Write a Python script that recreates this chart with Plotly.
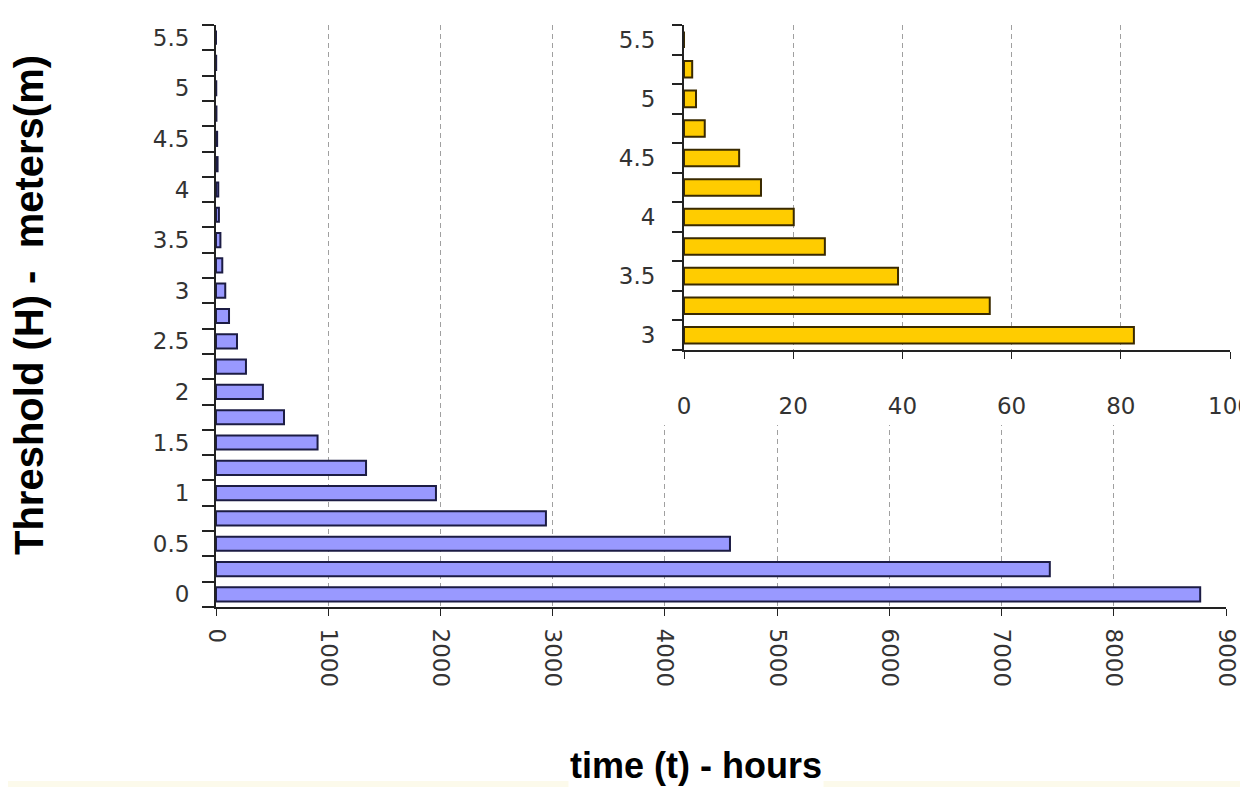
import plotly.graph_objects as go

# ---- data ----
thresholds = [0, 0.25, 0.5, 0.75, 1, 1.25, 1.5, 1.75, 2, 2.25, 2.5, 2.75,
              3, 3.25, 3.5, 3.75, 4, 4.25, 4.5, 4.75, 5, 5.25, 5.5]
hours = [8770, 7430, 4580, 2940, 1960, 1337, 905, 606, 418, 267, 187, 116,
         82.4, 56, 39.2, 25.8, 20.1, 14.1, 10.1, 3.8, 2.2, 1.5, 0]
inset_start = 12  # threshold 3 m onwards
main_xticks = [0, 1000, 2000, 3000, 4000, 5000, 6000, 7000, 8000, 9000]
inset_xticks = [0, 20, 40, 60, 80, 100]
y_label_vals = [0, 0.5, 1, 1.5, 2, 2.5, 3, 3.5, 4, 4.5, 5, 5.5]

# page body has an 8px margin -> figure drawn at (8, 8)
OFF = 8
W, H = 1248 - OFF, 787 - OFF
FONT = "Liberation Sans"
TICKFONT = dict(family="DejaVu Sans", size=23, color="#333333")

def px_x(p):
    return (p - OFF) / W

def px_y(p):
    return 1 - (p - OFF) / H

half = 0.125
boundaries = [t - half for t in thresholds] + [thresholds[-1] + half]

fig = go.Figure()

fig.add_trace(go.Bar(
    x=hours, y=thresholds, orientation="h",
    marker=dict(color="#9999ff", line=dict(color="#1c1c44", width=2)),
    xaxis="x", yaxis="y", showlegend=False,
))
# blank cover subplot (white box hiding the main grid behind the inset)
fig.add_trace(go.Scatter(x=[], y=[], xaxis="x2", yaxis="y2", showlegend=False))
fig.add_trace(go.Bar(
    x=hours[inset_start:], y=thresholds[inset_start:], orientation="h",
    marker=dict(color="#ffcc00", line=dict(color="#3a2a00", width=2)),
    xaxis="x3", yaxis="y3", showlegend=False,
))

grid_dash = "5px,4px"

fig.update_layout(
    width=W, height=H,
    margin=dict(l=0, r=0, t=0, b=0),
    paper_bgcolor="white", plot_bgcolor="white",
    bargap=0.44,
    xaxis=dict(
        domain=[px_x(216), px_x(1226)], anchor="y",
        range=[0, 9000], tickmode="array", tickvals=main_xticks,
        tickangle=90, ticks="outside", ticklen=7, tickcolor="#222",
        ticklabelstandoff=8, ticklabeloverflow="allow",
        showline=True, linecolor="#222", linewidth=2,
        showgrid=True, gridcolor="#a0a0a0", griddash=grid_dash, gridwidth=1,
        zeroline=False, tickfont=TICKFONT, automargin=False,
    ),
    yaxis=dict(
        domain=[px_y(607), px_y(25)], anchor="x",
        range=[boundaries[0], boundaries[-1]],
        tickmode="array", tickvals=y_label_vals,
        ticks="outside", ticklen=20, tickcolor="rgba(0,0,0,0)",
        minor=dict(tickmode="array", tickvals=boundaries, ticks="outside",
                   ticklen=12, tickcolor="#222", tickwidth=2, showgrid=False),
        showline=True, linecolor="#222", linewidth=2,
        showgrid=False, zeroline=False, tickfont=TICKFONT, automargin=False,
    ),
    xaxis2=dict(domain=[px_x(600), 1], anchor="y2", visible=False,
                range=[0, 1], fixedrange=True),
    yaxis2=dict(domain=[px_y(425), 1], anchor="x2", visible=False,
                range=[0, 1], fixedrange=True),
    xaxis3=dict(
        domain=[px_x(684), px_x(1230)], anchor="y3",
        range=[0, 100], tickmode="array", tickvals=inset_xticks,
        ticks="outside", ticklen=7, tickcolor="#222",
        ticklabelstandoff=27, ticklabeloverflow="allow",
        showline=True, linecolor="#222", linewidth=2,
        showgrid=True, gridcolor="#a0a0a0", griddash=grid_dash, gridwidth=1,
        zeroline=False, tickfont=TICKFONT, automargin=False,
    ),
    yaxis3=dict(
        domain=[px_y(350), px_y(25)], anchor="x3",
        range=[boundaries[inset_start], boundaries[-1]],
        tickmode="array", tickvals=y_label_vals[6:],
        ticks="outside", ticklen=22, tickcolor="rgba(0,0,0,0)",
        minor=dict(tickmode="array", tickvals=boundaries[inset_start:], ticks="outside",
                   ticklen=10, tickcolor="#222", tickwidth=2, showgrid=False),
        showline=True, linecolor="#222", linewidth=2,
        showgrid=False, zeroline=False, tickfont=TICKFONT, automargin=False,
    ),
    shapes=[dict(type="rect", xref="paper", yref="paper", x0=0, x1=1,
                 y0=0, y1=6 / H, fillcolor="#fcfaeb", line=dict(width=0),
                 layer="below")],
    annotations=[
        dict(text="<b>Threshold (H) -  meters(m)</b>", xref="paper", yref="paper",
             x=px_x(29), y=px_y(305), textangle=-90, showarrow=False,
             font=dict(family=FONT, size=40, color="black"),
             xanchor="center", yanchor="middle"),
        dict(text="<b>time (t) - hours</b>", xref="paper", yref="paper",
             x=px_x(696), y=px_y(765), showarrow=False, bgcolor="white",
             font=dict(family=FONT, size=36, color="black"),
             xanchor="center", yanchor="middle"),
    ],
)

fig.write_html("out.html")
